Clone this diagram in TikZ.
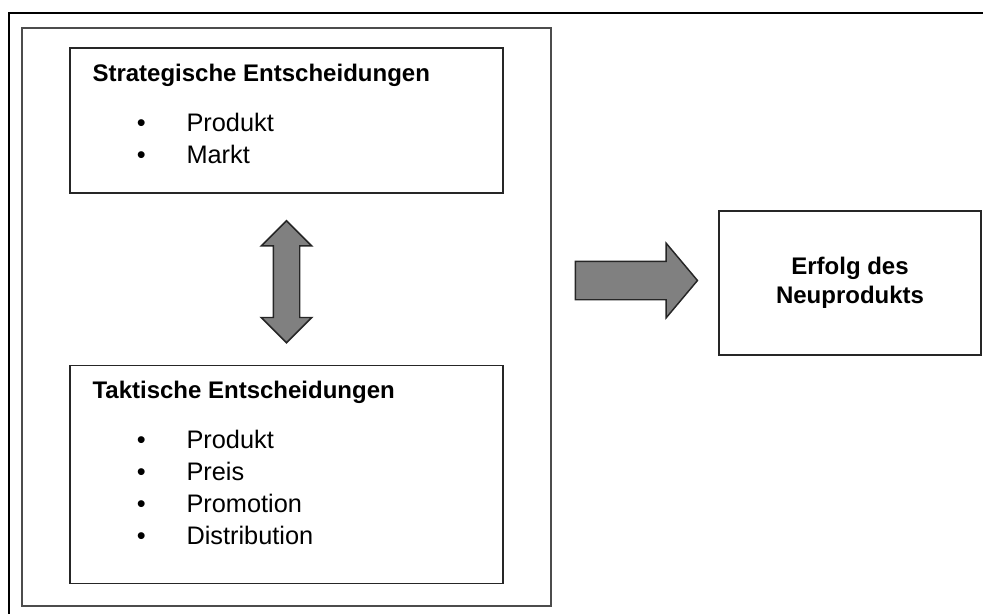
\documentclass[tikz,border=0pt]{standalone}
\usepackage{fontspec}
\setmainfont{Liberation Sans}
\usetikzlibrary{arrows,positioning,shapes.arrows,calc}
\tikzset{
    %Define standard arrow tip
    >=stealth',
    %Define style for boxes
    kasten/.style={
           rectangle,
           draw=black!85, line width=1.1pt,
           inner sep=0pt},
    % Define style for block arrows
    block/.style={
           draw=black!85, fill=gray,
           line width=1.1pt,
           inner xsep=0pt},
    % Define text styles
    titel/.style={
           font=\bfseries\fontsize{18}{20}\selectfont,
           anchor=base west, inner sep=0pt},
    eintrag/.style={
           font=\fontsize{19}{21}\selectfont,
           anchor=base west, inner sep=0pt},
    punktzeichen/.style={
           font=\fontsize{19}{21}\selectfont,
           anchor=base, inner sep=0pt}
}

\begin{document}
\begin{tikzpicture}[x=0.75pt, y=-0.75pt, node distance=128.25pt]
\useasboundingbox (0,0) rectangle (983,614);
\draw[line width=1.5pt] (9,614) |- (983,13);

\node[kasten, draw=black!70, minimum width=396.75pt, minimum height=433.5pt] (rahmen) at (286.5,317) {};
\node[kasten, minimum width=324.75pt, minimum height=108.75pt] (strat) at (286.5,120.5) {};
\node[kasten, minimum width=324.75pt, minimum height=163.5pt, below=of strat] (takt) {};
\node[kasten, minimum width=196.5pt, minimum height=108pt] (erfolg) at (850,283) {};

\node[titel] (strattitel) at ([xshift=17.25pt,yshift=-25.5pt]strat.north west) {Strategische Entscheidungen};
\foreach \wort [count=\i] in {Produkt, Markt} {
  \node[punktzeichen] (stratdot\i) at ([xshift=54pt,yshift={-63pt-24pt*(\i-1)}]strat.north west) {•};
  \node[eintrag] (stratpunkt\i) at ([xshift=87.75pt,yshift={-63pt-24pt*(\i-1)}]strat.north west) {\wort};
}

\node[titel] (takttitel) at ([xshift=17.25pt,yshift=-25.5pt]takt.north west) {Taktische Entscheidungen};
\foreach \wort [count=\i] in {Produkt, Preis, Promotion, Distribution} {
  \node[punktzeichen] (taktdot\i) at ([xshift=54pt,yshift={-63pt-24pt*(\i-1)}]takt.north west) {•};
  \node[eintrag] (taktpunkt\i) at ([xshift=87.75pt,yshift={-63pt-24pt*(\i-1)}]takt.north west) {\wort};
}

\node[font=\bfseries\fontsize{18}{21.75}\selectfont, align=center] (erfolgtext) at (erfolg.center) {Erfolg des\\Neuprodukts};

% block arrows
\node[block, double arrow, rotate=90, minimum height=91.5pt, inner ysep=9.375pt,
  double arrow head extend=9pt, double arrow tip angle=90]
  (wechsel) at ($(strat.south)!0.5!(takt.north)+(0,2.5)$) {};
\node[block, single arrow, anchor=tail, minimum height=91.5pt, inner ysep=13.875pt,
  single arrow head extend=13.5pt, single arrow tip angle=100]
  (wirkung) at ($(rahmen.east |- erfolg.center)+(23,-2.5)$) {};
\end{tikzpicture}
\end{document}
